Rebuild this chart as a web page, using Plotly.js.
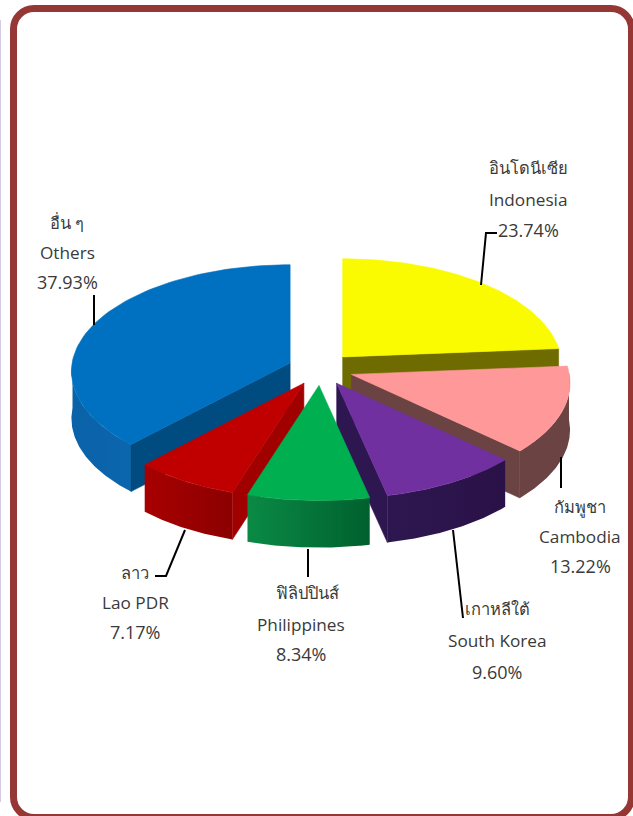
<!DOCTYPE html>
<html><head><meta charset="utf-8">
<script src="https://cdn.plot.ly/plotly-3.0.1.min.js"></script>
<style>html,body{margin:0;padding:0;background:#fff}#c{width:633px;height:816px}</style>
</head><body><div id="c"></div>
<script>
var names_th = ['อินโดนีเซีย','กัมพูชา','เกาหลีใต้','ฟิลิปปินส์','ลาว','อื่น ๆ'];
var names_en = ['Indonesia','Cambodia','South Korea','Philippines','Lao PDR','Others'];
var shares = [23.74,13.22,9.60,8.34,7.17,37.93];
var topColors = ['#fafa00','#ff9999','#7030a0','#00b050','#c00000','#0070c0'];
var wallColors = ['#6e6b00','#6b4343','#2e1650','#005f2e','#a00000','#004b80'];
var rimScales = [
  ['#6e6b00','#6e6b00'],
  ['#6b4343','#6b4343'],
  ['#2e1650','#2a1248'],
  ['#0a8a45','#00602e'],
  ['#a80000','#8c0000'],
  ['#0a62a8','#0c66ae']
];
var wallSide = ['end','end','end',null,'start','start'];
var drawOrder = [5,0,1,4,2,3];
var labelX = [528,580,497,301,135,67];
var thaiShift = [0,0,0,6,0,0];
var labelRows = [
  [167,199,230],
  [506,536,566],
  [608,640,672],
  [592,624,654],
  [572,602,632],
  [222,252,282]
];
var leaders = [
  [[481,285],[486,233],[497,233]],
  [[561,457],[561,488]],
  [[453,530],[463,618]],
  [[308,549],[308,577]],
  [[185,530],[166,576],[155,576]],
  [[94,325],[94,295]]
];

var CX=320.5, CY=369, R=218, Q=106, P=0.08, EXPL=0.15, EXPLY=0.155, DEPTH=47;
function proj(t){var u=Math.sin(t),v=-Math.cos(t),s=1/(1-P*v);return [R*u*s,Q*v*s];}
function arc(a,t1,t2,dy){var n=80,o=[];for(var i=0;i<=n;i++){var t=t1+(t2-t1)*i/n,p=proj(t);o.push([a[0]+p[0],a[1]+p[1]+dy]);}return o;}
function poly(pts,color,grad){
  var tr={type:'scatter',mode:'lines',x:pts.map(function(p){return p[0]}),y:pts.map(function(p){return p[1]}),
    fill:'toself',fillcolor:color,line:{color:color,width:0.6},hoverinfo:'skip',showlegend:false};
  if(grad){tr.fillgradient={type:'horizontal',colorscale:[[0,grad[0]],[1,grad[1]]]};tr.line={width:0,color:grad[0]};}
  return tr;
}
var traces=[];
var cum=[0];shares.forEach(function(s,i){cum.push(cum[i]+s)});
var total=cum[cum.length-1];
function ang(c){return 2*Math.PI*c/total;}
drawOrder.forEach(function(i){
  var t1=ang(cum[i]),t2=ang(cum[i+1]),mid=(t1+t2)/2;
  var m=[Math.sin(mid),-Math.cos(mid)];
  var a=[CX+EXPL*R*m[0],CY+EXPLY*Q*m[1]];
  var r1=Math.max(t1,Math.PI/2-0.02),r2=Math.min(t2,3*Math.PI/2+0.02);
  if(r2>r1){
    var up=arc(a,r1,r2,0),dn=arc(a,r1,r2,DEPTH).reverse();
    traces.push(poly(up.concat(dn,[up[0]]),rimScales[i][0],rimScales[i]));
  }
  if(wallSide[i]){
    var t=wallSide[i]==='end'?t2:t1,p=proj(t),e=[a[0]+p[0],a[1]+p[1]];
    traces.push(poly([a,e,[e[0],e[1]+DEPTH],[a[0],a[1]+DEPTH],a],wallColors[i]));
  }
  var top=[a].concat(arc(a,t1,t2,0),[a]);
  traces.push(poly(top,topColors[i]));
});
leaders.forEach(function(l){
  traces.push({type:'scatter',mode:'lines',x:l.map(function(p){return p[0]}),y:l.map(function(p){return p[1]}),
    line:{color:'#000',width:2},hoverinfo:'skip',showlegend:false});
});
var FONT='"Open Sans","Noto Sans",sans-serif';
var anns=[];
shares.forEach(function(s,i){
  var rows=[names_th[i],names_en[i],s.toFixed(2)+'%'];
  rows.forEach(function(txt,j){
    anns.push({xref:'x',yref:'y',x:labelX[i]+(j===0?thaiShift[i]:0),y:labelRows[i][j],text:txt,showarrow:false,xanchor:'center',yanchor:'middle',
      font:{family:FONT,size:j===2?18:(j===0?16.5:17.2),color:'#3a3a3a'}});
  });
});
var frame='M 34,8.5 L 611,8.5 C 622.3,8.5 631.5,17.7 631.5,29 L 631.5,797 C 631.5,808.3 622.3,817.5 611,817.5 L 34,817.5 C 22.7,817.5 13.5,808.3 13.5,797 L 13.5,29 C 13.5,17.7 22.7,8.5 34,8.5 Z';
var layout={width:633,height:816,margin:{l:0,r:0,t:0,b:0},paper_bgcolor:'#fff',plot_bgcolor:'#fff',showlegend:false,
  xaxis:{range:[0,633],visible:false,fixedrange:true},
  yaxis:{range:[816,0],visible:false,fixedrange:true},
  annotations:anns,
  shapes:[{type:'path',path:frame,xref:'x',yref:'y',line:{color:'#953735',width:7},fillcolor:'rgba(0,0,0,0)',layer:'below'},
          {type:'line',x0:0.5,x1:0.5,y0:20,y1:802,xref:'x',yref:'y',line:{color:'#d5cbe2',width:1},layer:'below'}]};
Plotly.newPlot('c',traces,layout,{displayModeBar:false,staticPlot:true});
</script></body></html>
